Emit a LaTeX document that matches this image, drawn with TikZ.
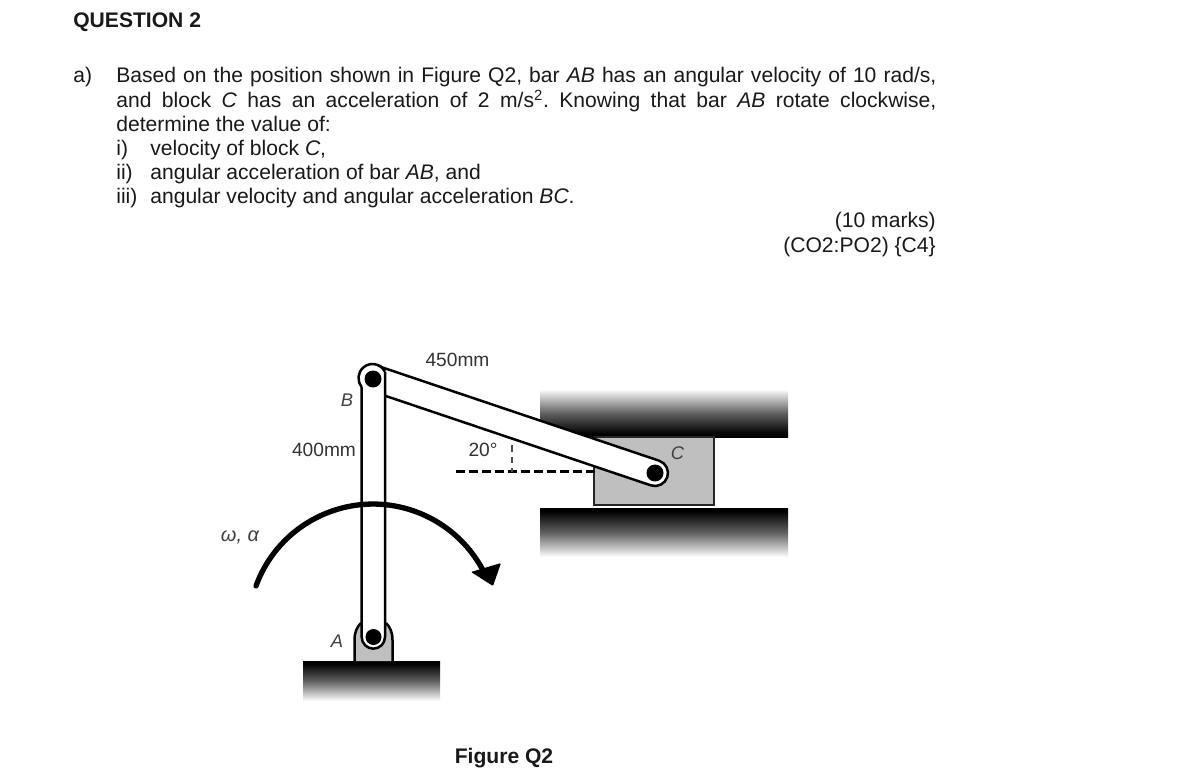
\documentclass[tikz,border=0pt]{standalone}
\usepackage{fontspec}
\setmainfont{Liberation Sans}
\pgfdeclareverticalshading{fadewall}{100bp}{color(0bp)=(white); color(25bp)=(white); color(50bp)=(black!62); color(72bp)=(black); color(100bp)=(black)}
\tikzset{
  txt/.style={anchor=base west,inner sep=0pt,font=\fontsize{12.65}{14}\selectfont,text=black!90},
  boldtxt/.style={txt,font=\fontsize{12.65}{14}\selectfont\bfseries},
  lab/.style={inner sep=0pt,font=\fontsize{11.5}{12}\selectfont,text=black!80},
  ital/.style={inner sep=0pt,font=\fontsize{11}{12}\selectfont\itshape,text=black!75},
  barline/.style={draw=black,line width=1.5pt},
  pin/.style={fill=black},
  blockfill/.style={fill=black!25,draw=black!85,line width=1pt},
  dashline/.style={draw=black,line width=1.5pt,dash pattern=on 5.4pt off 2.4pt},
}
\begin{document}
\begin{tikzpicture}[x=0.6pt,y=-0.6pt]
\useasboundingbox[fill=white] (0,0) rectangle (1200,782);
% text
\frenchspacing
\node[boldtxt] (title) at (73,27.5) {QUESTION 2};
\node[txt] (a) at (73,83) {a)};
\node[txt] (l1) at (116,83) {\makebox[492pt][s]{Based on the position shown in Figure Q2, bar \textit{AB} has an angular velocity of 10 rad/s,}};
\node[txt] (l2) at (116,107.5) {\makebox[492pt][s]{and block \textit{C} has an acceleration of 2 m/s\textsuperscript{2}. Knowing that bar \textit{AB} rotate clockwise,}};
\node[txt] (l3) at (116,131.5) {determine the value of:};
\node[txt] (i1) at (116,155.5) {i)};
\node[txt] (l4) at (150,155.5) {velocity of block \textit{C},};
\node[txt] (i2) at (116,179.5) {ii)};
\node[txt] (l5) at (150,179.5) {angular acceleration of bar \textit{AB}, and};
\node[txt] (i3) at (116,204) {iii)};
\node[txt] (l6) at (150,204) {angular velocity and angular acceleration \textit{BC}.};
\node[txt,anchor=base east] (m1) at (936,228) {(10 marks)};
\node[txt,anchor=base east] (m2) at (936,252.5) {(CO2:PO2) \{C4\}};
% ground and walls
\shade[shading=fadewall] (303,661) rectangle (440,701);
\shade[shading=fadewall,shading angle=180] (540,389) rectangle (788,437);
\shade[shading=fadewall] (540,508) rectangle (788,557);
% clevis at A
\coordinate (A) at (373.5,637);
\fill[black!25] (354.5,661) -- (354.5,640) .. controls (354.5,632) and (357,627) .. (361,623) -- (386,623) .. controls (390,627) and (392.5,632) .. (392.5,640) -- (392.5,661) -- cycle;
\draw[line width=1.5pt] (354.5,661) -- (354.5,640) .. controls (354.5,632) and (357,627) .. (361,623);
\draw[line width=1.5pt] (392.5,661) -- (392.5,640) .. controls (392.5,632) and (390,627) .. (386,623);
% block C
\coordinate (C) at (655,473);
\coordinate (B) at (372.5,378);
\path[blockfill] (594,437) rectangle (714,505);
% dashed reference
\draw[dashline] (456,471.5) -- (598,471.5);
\draw[draw=black!70,line width=0.9pt,dash pattern=on 4pt off 3pt] (512,445) -- (512,471.5);
% bar BC
\path[barline,fill=white] (377.1,365.7) -- (659.1,460.7) arc[start angle=-71.4,end angle=108.6,radius=13] -- (368.9,390.3) arc[start angle=108.6,end angle=288.6,radius=13] -- cycle;
\fill[pin] (C) circle[radius=8.5];
% bar AB
\fill[white] (B) circle[radius=14];
\fill[white] (361.7,372) rectangle (385,637);
\fill[white] (A) circle[radius=11.6];
\draw[barline] (361.7,386.9) -- (361.7,637) arc[start angle=180,end angle=0,radius=11.65] -- (385,371.7);
\draw[barline] (361.7,386.9) arc[start angle=140.5,end angle=333,radius=14];
\fill[pin] (373,379) circle[radius=8.5];
\fill[pin] (A) circle[radius=8];
% rotation arrow
\draw[line width=3.2pt,line cap=round] (256,586) arc[start angle=200,end angle=332,radius=124.5];
\fill[black,rounded corners=0.6pt] (471,572) -- (501,563) -- (493,586) -- cycle;
% labels
\node[lab] (d450) at (457.5,360) {450mm};
\node[lab] (d400) at (324,450) {400mm};
\node[lab] (ang) at (483,450) {20°};
\node[ital] (lB) at (347,400.5) {B};
\node[ital] (lC) at (677.5,453.5) {C};
\node[ital] (lA) at (337,641) {A};
\node[ital,font=\fontsize{12}{12}\selectfont\itshape] (lw) at (240,537) {ω, α};
\node[boldtxt,anchor=center] (fig) at (504,758) {Figure Q2};
\end{tikzpicture}
\end{document}
